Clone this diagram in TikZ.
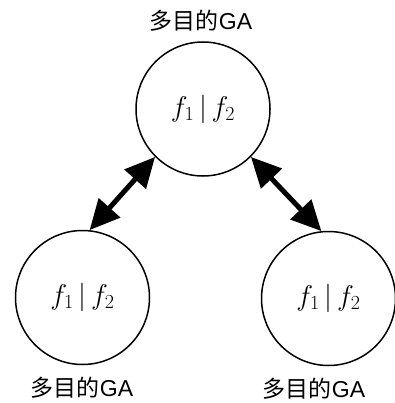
\documentclass[tikz,border=0pt]{standalone}
\usepackage{fix-cm}
\usepackage{fontspec}
\newfontfamily\cjk{Noto Sans CJK SC}
\newfontfamily\lsans{Liberation Sans}
\usetikzlibrary{arrows.meta}
\tikzset{
  gacircle/.style={circle, draw=black, line width=1.5pt, minimum size=134pt, inner sep=0pt,
    font=\fontsize{28.5}{32}\selectfont},
  galabel/.style={anchor=base, inner sep=0pt, font=\fontsize{23}{26}\selectfont},
  link/.style={line width=5pt, {Triangle[length=30pt,width=28pt]}-{Triangle[length=30pt,width=28pt]}}
}
\newcommand{\galab}{{\cjk 多目的}{\lsans GA}}
\newcommand{\ffpair}{$f_1\,|\,f_2$}
\begin{document}
\begin{tikzpicture}[x=1pt,y=-1pt]
\useasboundingbox (0,0) rectangle (394,403);
\node[gacircle] (top) at (203,109) {\ffpair};
\node[gacircle] (bl) at (82.5,297.5) {\ffpair};
\node[gacircle] (br) at (328.5,298.5) {\ffpair};
\node[galabel] (ltop) at (201,29.3) {\galab};
\node[galabel] (lbl) at (82,396) {\galab};
\node[galabel] (lbr) at (314,397.5) {\galab};
\draw[link] (top.225) -- (bl.84);
\draw[link] (top.315) -- (br.96);
\end{tikzpicture}
\end{document}
